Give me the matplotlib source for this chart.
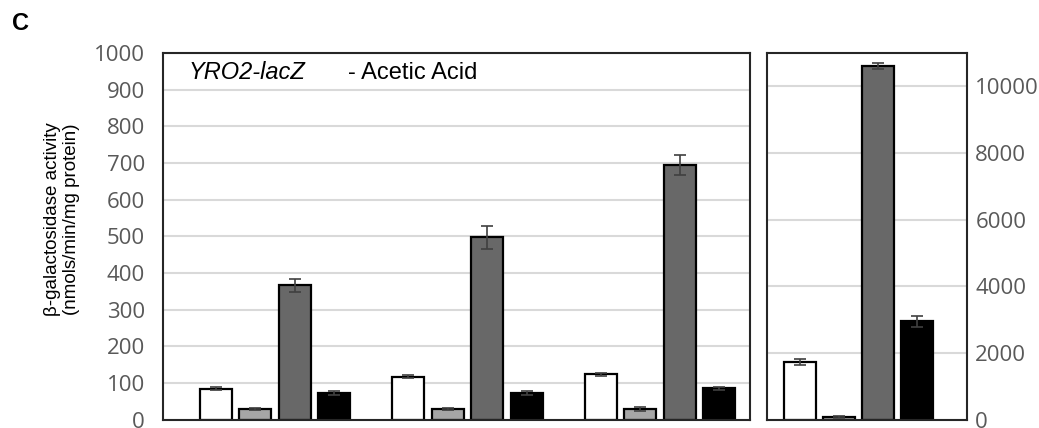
import matplotlib
matplotlib.use("Agg")
import matplotlib.pyplot as plt
import numpy as np

groups = [0, 1, 2]
white_vals = [84, 117, 123]
white_err = [4, 5, 4]
light_vals = [28, 28, 29]
light_err = [3, 3, 5]
dark_vals = [366, 497, 695]
dark_err = [17, 32, 27]
black_vals = [73, 73, 85]
black_err = [5, 5, 5]

right_vals = [1740, 90, 10610, 2950]
right_err = [90, 30, 90, 160]

left_ticks = list(range(0, 1001, 100))
right_ticks = list(range(0, 10001, 2000))

colors = ["#ffffff", "#a6a6a6", "#686868", "#000000"]
W, H = 1039, 428
fig = plt.figure(figsize=(W / 100, H / 100), dpi=100)

def px_axes(x0, x1, y0, y1):
    return fig.add_axes([x0 / W, 1 - y1 / H, (x1 - x0) / W, (y1 - y0) / H])

tick_font = "Open Sans"
grid_c = "#d9d9d9"
spine_c = "#262626"
err_c = "#404040"

# Left panel
ax = px_axes(163, 750, 53, 419.5)
offsets = np.array([-0.3078, -0.1026, 0.1026, 0.3078])
bw = 0.166
x = np.array(groups, dtype=float)
series = [(white_vals, white_err), (light_vals, light_err),
          (dark_vals, dark_err), (black_vals, black_err)]
for i, (v, e) in enumerate(series):
    ax.bar(x + offsets[i], v, bw, color=colors[i], edgecolor="black",
           linewidth=1.6, zorder=2)
    ax.errorbar(x + offsets[i], v, yerr=e, fmt="none", ecolor=err_c,
                elinewidth=1.2, capsize=4, capthick=1.2, zorder=3)
ax.set_xlim(-0.582, 2.468)
ax.set_ylim(0, 1000)
ax.set_yticks(left_ticks)
ax.set_yticklabels([str(t) for t in left_ticks], fontsize=16,
                   color="#595959", fontfamily=tick_font)
ax.tick_params(axis="y", length=0, pad=13)
ax.set_xticks([])
ax.yaxis.grid(True, color=grid_c, linewidth=1.5, zorder=0)
ax.set_axisbelow(True)
for s in ax.spines.values():
    s.set_color(spine_c)
    s.set_linewidth(1.5)
ax.text(0.0443, 0.929, "YRO2-lacZ", transform=ax.transAxes, fontsize=17,
        style="italic", fontfamily="Liberation Sans", va="baseline", ha="left")
ax.text(0.315, 0.929, "- Acetic Acid", transform=ax.transAxes, fontsize=17,
        fontfamily="Liberation Sans", va="baseline", ha="left")

fig.text(62 / W, 1 - 219 / H, "β-galactosidase activity\n(nmols/min/mg protein)",
         fontsize=13.5, fontfamily="Liberation Sans", rotation=90,
         ha="center", va="center", multialignment="center", linespacing=1.1)

# Right panel
ax2 = px_axes(767, 967, 53, 419.5)
roff = np.array([-0.375, -0.125, 0.125, 0.375])
for i in range(4):
    ax2.bar(roff[i], right_vals[i], 0.204, color=colors[i], edgecolor="black",
            linewidth=1.6, zorder=2)
    ax2.errorbar(roff[i], right_vals[i], yerr=right_err[i], fmt="none",
                 ecolor=err_c, elinewidth=1.2, capsize=4.5, capthick=1.2, zorder=3)
ax2.set_xlim(-0.583, 0.691)
ax2.set_ylim(0, 11000)
ax2.yaxis.tick_right()
ax2.set_yticks(right_ticks)
ax2.set_yticklabels([str(t) for t in right_ticks], fontsize=16,
                    color="#595959", fontfamily=tick_font)
ax2.tick_params(axis="y", length=0, pad=6)
ax2.set_xticks([])
ax2.yaxis.grid(True, color=grid_c, linewidth=1.5, zorder=0)
ax2.set_axisbelow(True)
for s in ax2.spines.values():
    s.set_color(spine_c)
    s.set_linewidth(1.5)

fig.text(12 / W, 1 - 23.5 / H, "C", fontsize=17, fontweight="bold",
         fontfamily="Liberation Sans", va="center", ha="left")

fig.savefig("out.png", dpi=100)
